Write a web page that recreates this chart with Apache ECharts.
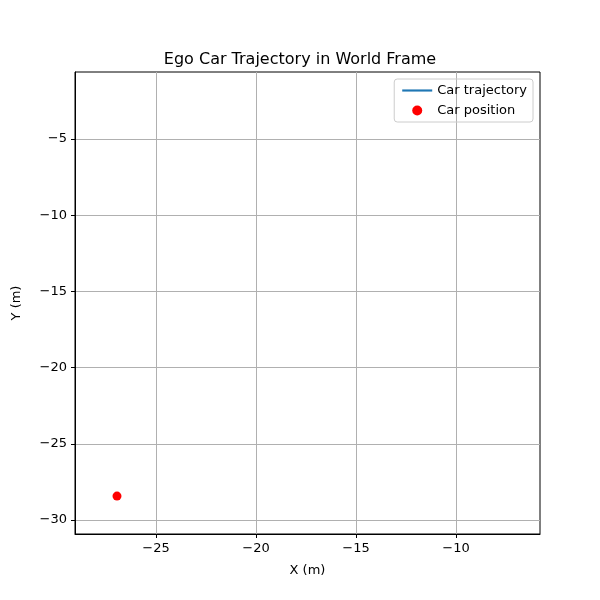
<!DOCTYPE html>
<html><head><meta charset="utf-8">
<script src="https://cdn.jsdelivr.net/npm/echarts@6/dist/echarts.min.js"></script>
<style>html,body{margin:0;padding:0;background:#fff}#c{width:600px;height:600px}</style>
</head><body><div id="c"></div>
<script>
var trajectory = [[-26.95, -28.43]];
var carPosition = [[-26.95, -28.43]];
var xTicks = [-25, -20, -15, -10];
var yTicks = [-30, -25, -20, -15, -10, -5];

var chart = echarts.init(document.getElementById('c'));
function fmt(v){ return v < 0 ? '\u2212' + Math.abs(v) : String(v); }
var txt = {color:'#000', fontSize:13, fontFamily:'DejaVu Sans'};
chart.setOption({
  animation:false,
  title:{text:'Ego Car Trajectory in World Frame', left:'center', top:47,
    textStyle:{fontSize:16, fontWeight:'normal', color:'#000', fontFamily:'DejaVu Sans'}},
  grid:{left:75, right:60, top:72, bottom:66, show:true, borderColor:'#000', borderWidth:1},
  legend:{right:67, top:79, orient:'vertical', borderColor:'#ccc', borderWidth:1, borderRadius:3,
    padding:[5,6,5,8], itemGap:7, itemWidth:30, itemHeight:10,
    textStyle:{fontSize:13, fontFamily:'DejaVu Sans', color:'#000'},
    data:[{name:'Car trajectory', icon:'path://M0,4 L28,4 L28,6 L0,6 Z'},{name:'Car position', icon:'circle'}]},
  xAxis:{type:'value', min:-29.05, max:-5.8, name:'X (m)', nameLocation:'middle', nameGap:30,
    nameTextStyle:{fontSize:13, fontFamily:'DejaVu Sans', color:'#000'},
    axisLine:{onZero:false, lineStyle:{color:'#000'}},
    axisTick:{show:true, customValues:xTicks, length:4, lineStyle:{color:'#000'}},
    axisLabel:Object.assign({customValues:xTicks, formatter:fmt, margin:8}, txt),
    splitLine:{show:true, lineStyle:{color:'#b0b0b0'}}},
  yAxis:{type:'value', min:-30.92, max:-0.6, name:'Y (m)', nameLocation:'middle', nameGap:52,
    nameTextStyle:{fontSize:13, fontFamily:'DejaVu Sans', color:'#000'},
    axisLine:{show:true, onZero:false, lineStyle:{color:'#000'}},
    axisTick:{show:true, customValues:yTicks, length:4, lineStyle:{color:'#000'}},
    axisLabel:Object.assign({customValues:yTicks, formatter:fmt, margin:8}, txt),
    splitLine:{show:true, lineStyle:{color:'#b0b0b0'}}},
  series:[
    {name:'Car trajectory', type:'line', data:trajectory, showSymbol:false, color:'#1f77b4', lineStyle:{width:2}},
    {name:'Car position', type:'scatter', data:carPosition, symbolSize:9, color:'#ff0000', itemStyle:{opacity:1}}
  ]
});
</script></body></html>
